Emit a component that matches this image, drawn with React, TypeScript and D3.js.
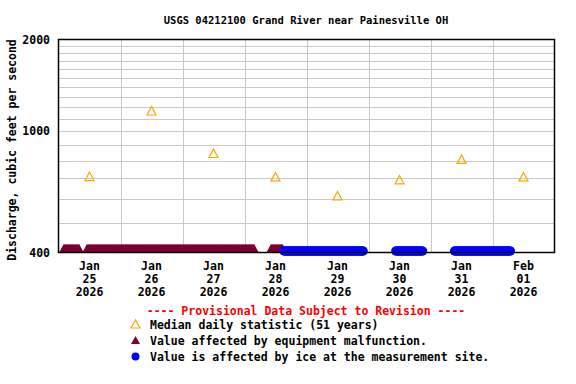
import React, { useEffect, useRef } from 'react';
import * as d3 from 'd3';

const title = 'USGS 04212100 Grand River near Painesville OH';
const yLabel = 'Discharge, cubic feet per second';

// daily medians, plotted at noon
const medianDays = ['2026-01-25', '2026-01-26', '2026-01-27', '2026-01-28', '2026-01-29', '2026-01-30', '2026-01-31', '2026-02-01'];
const medianValues = [710, 1165, 845, 708, 613, 692, 808, 708];

const yTicks = [400, 1000, 2000];
const yGrid = [500, 600, 700, 800, 900, 1000, 1100, 1200, 1300, 1400, 1500, 1600, 1700, 1800, 1900];

// periods flagged at the bottom of the graph (15-minute readings)
const malfunctionPeriods = [
    ['2026-01-25T02:00', '2026-01-25T08:00'],
    ['2026-01-25T11:00', '2026-01-28T03:45'],
    ['2026-01-28T10:15', '2026-01-28T14:45'],
];
const icePeriods = [
    ['2026-01-28T15:15', '2026-01-29T22:00'],
    ['2026-01-30T10:30', '2026-01-30T21:00'],
    ['2026-01-31T09:15', '2026-02-01T07:00'],
];

const legendItems = [
    'Median daily statistic (51 years)',
    'Value affected by equipment malfunction.',
    'Value is affected by ice at the measurement site.',
];

const FONT = '"DejaVu Sans Mono", monospace';
const ORANGE = '#ffa500';
const MAROON = '#7b0036';
const BLUE = '#0000ff';

const utc = (s: string) => new Date(s + (s.length > 10 ? ':00Z' : 'T00:00:00Z'));

const App = () => {
    const ref = useRef<SVGSVGElement>(null);

    useEffect(() => {
        document.body.style.margin = '0';
        const svg = d3.select(ref.current);
        svg.selectAll('*').remove();

        const left = 58.5, right = 554.5, top = 39.5, bottom = 252.5;

        const x = d3.scaleUtc()
            .domain([utc('2026-01-25'), utc('2026-02-02')])
            .range([left, right]);
        const y = d3.scaleLog()
            .domain([400, 2000])
            .range([bottom, top]);

        // grid
        svg.append('g')
            .selectAll('line')
            .data(yGrid)
            .enter()
            .append('line')
            .attr('x1', left).attr('x2', right)
            .attr('y1', d => Math.round(y(d)) + 0.5).attr('y2', d => Math.round(y(d)) + 0.5)
            .attr('stroke', '#c8c8c8');

        const days = d3.utcDay.range(utc('2026-01-26'), utc('2026-02-02'));
        svg.append('g')
            .selectAll('line')
            .data(days)
            .enter()
            .append('line')
            .attr('x1', d => Math.round(x(d)) + 0.5).attr('x2', d => Math.round(x(d)) + 0.5)
            .attr('y1', top).attr('y2', bottom)
            .attr('stroke', '#c8c8c8');

        // flagged readings at bottom
        const every15 = d3.utcMinute.every(15)!;
        const malfTimes = malfunctionPeriods.flatMap(([a, b]) => every15.range(utc(a), new Date(+utc(b) + 1)));
        const iceTimes = icePeriods.flatMap(([a, b]) => every15.range(utc(a), new Date(+utc(b) + 1)));

        const by = y(400);
        svg.append('g')
            .selectAll('path')
            .data(malfTimes)
            .enter()
            .append('path')
            .attr('d', d => {
                const cx = x(d);
                return `M${cx},${by - 8.5}L${cx - 4.5},${by}L${cx + 4.5},${by}Z`;
            })
            .attr('fill', MAROON);

        svg.append('g')
            .selectAll('circle')
            .data(iceTimes)
            .enter()
            .append('circle')
            .attr('cx', d => x(d))
            .attr('cy', by - 1.5)
            .attr('r', 4.5)
            .attr('fill', BLUE);

        // medians
        svg.append('g')
            .selectAll('path')
            .data(medianDays.map((d, i) => ({ t: new Date(+utc(d) + 12 * 3600e3), v: medianValues[i] })))
            .enter()
            .append('path')
            .attr('d', d => {
                const cx = x(d.t), cy = y(d.v);
                return `M${cx},${cy - 4.5}L${cx - 4.5},${cy + 4}L${cx + 4.5},${cy + 4}Z`;
            })
            .attr('fill', 'none')
            .attr('stroke', ORANGE)
            .attr('stroke-width', 1.2);

        // frame
        svg.append('rect')
            .attr('x', left).attr('y', top)
            .attr('width', right - left).attr('height', bottom - top)
            .attr('fill', 'none')
            .attr('stroke', '#000')
            .attr('stroke-width', 1.5);

        // y tick labels
        svg.append('g')
            .selectAll('text')
            .data(yTicks)
            .enter()
            .append('text')
            .attr('x', 50)
            .attr('y', d => y(d) + 4)
            .attr('text-anchor', 'end')
            .attr('font-family', FONT)
            .attr('font-weight', 'bold')
            .attr('font-size', 11.5)
            .text(d => d);

        // x tick labels
        const fmt = [d3.utcFormat('%b'), d3.utcFormat('%d'), d3.utcFormat('%Y')];
        const xl = svg.append('g')
            .selectAll('text')
            .data(d3.utcDay.range(utc('2026-01-25'), utc('2026-02-02')))
            .enter()
            .append('text')
            .attr('text-anchor', 'middle')
            .attr('font-family', FONT)
            .attr('font-weight', 'bold')
            .attr('font-size', 11.5);
        fmt.forEach((f, i) => {
            xl.append('tspan')
                .attr('x', d => x(new Date(+d + 12 * 3600e3)))
                .attr('y', 270 + i * 13)
                .text(d => f(d));
        });

        svg.append('text')
            .attr('x', 306)
            .attr('y', 24)
            .attr('text-anchor', 'middle')
            .attr('font-family', FONT)
            .attr('font-weight', 'bold')
            .attr('font-size', 10.5)
            .text(title);

        svg.append('text')
            .attr('transform', 'translate(16,150) rotate(-90)')
            .attr('text-anchor', 'middle')
            .attr('font-family', FONT)
            .attr('font-weight', 'bold')
            .attr('font-size', 11.5)
            .text(yLabel);

        // legend
        svg.append('text')
            .attr('x', 306)
            .attr('y', 315)
            .attr('text-anchor', 'middle')
            .attr('font-family', FONT)
            .attr('font-weight', 'bold')
            .attr('font-size', 11.5)
            .attr('fill', '#ff0000')
            .text('---- Provisional Data Subject to Revision ----');

        const lg = svg.append('g')
            .selectAll('g')
            .data(legendItems)
            .enter()
            .append('g')
            .attr('transform', (d, i) => `translate(0,${329 + i * 16})`);
        lg.append('text')
            .attr('x', 150)
            .attr('font-family', FONT)
            .attr('font-weight', 'bold')
            .attr('font-size', 11.5)
            .text(d => d);

        lg.filter((d, i) => i === 0).append('path')
            .attr('d', 'M135.5,-9L131,-1L140,-1Z')
            .attr('fill', 'none').attr('stroke', ORANGE).attr('stroke-width', 1.2);
        lg.filter((d, i) => i === 1).append('path')
            .attr('d', 'M135.5,-9L131,-1L140,-1Z')
            .attr('fill', MAROON);
        lg.filter((d, i) => i === 2).append('circle')
            .attr('cx', 135.5).attr('cy', -4.5).attr('r', 4)
            .attr('fill', BLUE);
    }, []);

    return <svg ref={ref} width={576} height={384} style={{ display: 'block', background: '#fff' }} />;
};

export default App;
